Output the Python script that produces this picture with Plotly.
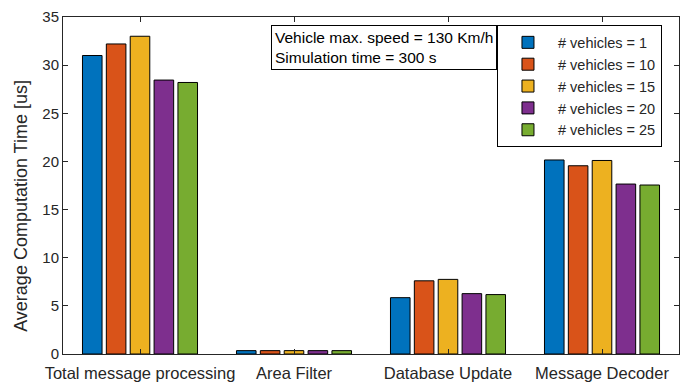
import plotly.graph_objects as go

categories = ["Total message processing", "Area Filter", "Database Update", "Message Decoder"]
series_names = ["# vehicles = 1", "# vehicles = 10", "# vehicles = 15", "# vehicles = 20", "# vehicles = 25"]
v1 = [31.0, 0.35, 5.85, 20.15]
v10 = [32.2, 0.35, 7.6, 19.55]
v15 = [33.0, 0.35, 7.75, 20.1]
v20 = [28.45, 0.35, 6.27, 17.65]
v25 = [28.2, 0.35, 6.17, 17.55]
values = [v1, v10, v15, v20, v25]
colors = ["#0072BD", "#D95319", "#EDB120", "#7E2F8E", "#77AC30"]
yticks = [0, 5, 10, 15, 20, 25, 30, 35]

FONT = "Liberation Sans, Arial, sans-serif"
TXT = "#262626"

fig = go.Figure()
for name, vals, c in zip(series_names, values, colors):
    fig.add_trace(go.Bar(
        x=categories, y=vals, name=name,
        marker=dict(color=c, line=dict(color="black", width=1)),
    ))

# the page body has an 8px default margin; size the figure to fit the 691x385 window
fig.update_layout(
    width=683, height=377,
    margin=dict(l=55, r=12, t=9, b=31, autoexpand=False),
    paper_bgcolor="white", plot_bgcolor="white",
    barmode="group", bargap=0.225, bargroupgap=0.18,
    font=dict(family=FONT, size=15, color=TXT),
    legend=dict(
        x=0.7045, y=0.975, xanchor="left", yanchor="top",
        bordercolor="black", borderwidth=1, bgcolor="white",
        font=dict(family=FONT, size=14.5, color=TXT),
        tracegroupgap=0, itemwidth=50,
    ),
    showlegend=True,
)
fig.update_xaxes(
    automargin=False, ticklabeloverflow="allow",
    showline=True, linecolor=TXT, linewidth=1, mirror="ticks",
    ticks="inside", ticklen=5, tickcolor=TXT, ticklabelstandoff=4,
    tickfont=dict(family=FONT, size=16.5, color=TXT),
    range=[-0.5, 3.5], type="category",
)
fig.update_yaxes(
    automargin=False, ticklabeloverflow="allow",
    range=[0, 35], tickvals=yticks,
    showline=True, linecolor=TXT, linewidth=1, mirror="ticks",
    ticks="inside", ticklen=5, tickcolor=TXT, showgrid=False, zeroline=False,
    tickfont=dict(family=FONT, size=15, color=TXT),
)
fig.add_annotation(
    xref="paper", yref="paper", x=-0.068, y=0.44, xanchor="center", yanchor="middle",
    text="Average Computation Time [us]", textangle=-90, showarrow=False,
    font=dict(family=FONT, size=18, color=TXT),
)
fig.add_annotation(
    xref="paper", yref="paper", x=0.7045, y=0.975, xanchor="right", yanchor="top",
    text="Vehicle max. speed = 130 Km/h<br>Simulation time = 300 s",
    showarrow=False, align="left", bordercolor="black", borderwidth=1, bgcolor="white",
    borderpad=3, font=dict(family=FONT, size=15.5, color="black"),
)
fig.write_html("out.html")
